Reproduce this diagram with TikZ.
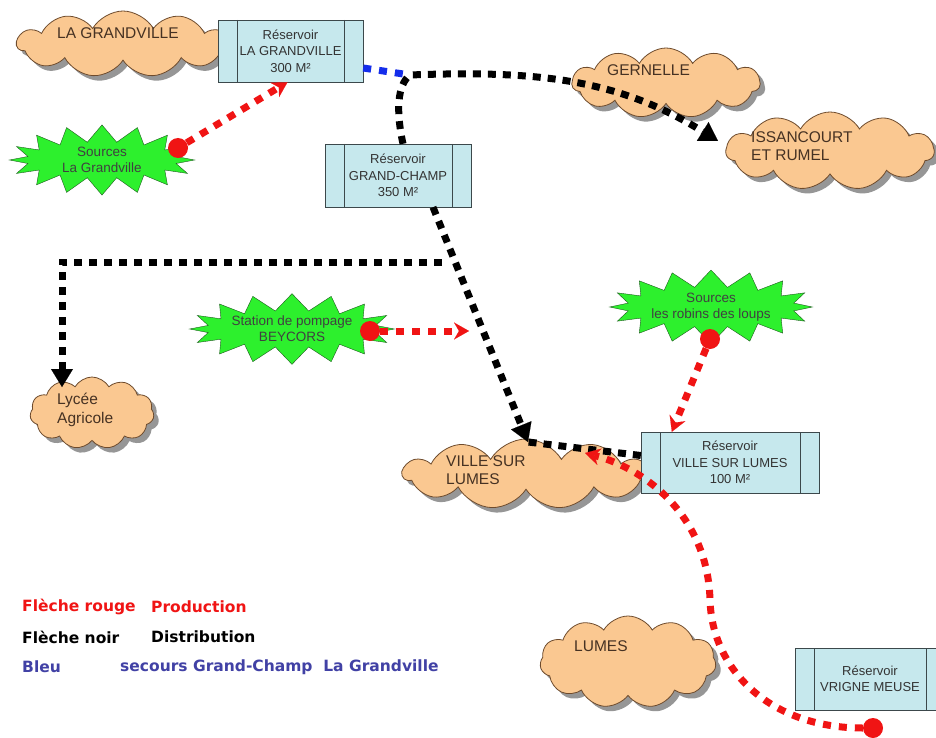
\documentclass[tikz,border=0pt]{standalone}
\usepackage{fontspec}
\setmainfont{Liberation Sans}
\newfontfamily\legendfont{DejaVu Sans}
\usepackage{tikz}
\usetikzlibrary{arrows.meta,shapes.symbols,shadows}
\definecolor{cloudF}{RGB}{250,200,145}
\definecolor{cloudD}{RGB}{110,75,45}
\definecolor{cloudT}{RGB}{70,50,35}
\definecolor{shadowG}{RGB}{150,150,150}
\definecolor{resF}{RGB}{198,232,237}
\definecolor{resD}{RGB}{60,72,75}
\definecolor{burstF}{RGB}{45,240,45}
\definecolor{burstD}{RGB}{30,90,30}
\definecolor{prodR}{RGB}{240,20,20}
\definecolor{secB}{RGB}{20,45,235}
\definecolor{legB}{RGB}{65,65,165}

\begin{document}
\begin{tikzpicture}[x=1pt, y=-1pt,
  cl/.style={cloud, cloud puffs=11, cloud puff arc=120, cloud ignores aspect, draw=cloudD, fill=cloudF, thick,
    drop shadow={shadow xshift=5pt, shadow yshift=-5pt, fill=shadowG, opacity=1}},
  clt/.style={text=cloudT, align=left, font=\fontsize{15.5}{18.5}\selectfont, inner sep=0pt},
  res/.style={rectangle, draw=resD, fill=resF, align=center, text=black!80, font=\fontsize{13}{16.5}\selectfont,
    path picture={\draw[resD] ([xshift=19pt]path picture bounding box.north west) -- ([xshift=19pt]path picture bounding box.south west)
      ([xshift=-19pt]path picture bounding box.north east) -- ([xshift=-19pt]path picture bounding box.south east);}},
  src/.style={starburst, random starburst=0, starburst points=16, starburst point height=17pt, draw=burstD, fill=burstF, align=center,
    text=black!75, font=\fontsize{13.5}{16}\selectfont, inner sep=0pt},
  dot/.style={circle, fill=prodR, minimum size=20pt, inner sep=0pt},
  prod/.style={prodR, line width=7pt, dash pattern=on 8pt off 8pt, -{Stealth[length=15pt,width=17pt,inset=5pt,line width=0.1pt]}},
  dist/.style={black, line width=7pt, dash pattern=on 8pt off 7pt},
  distA/.style={dist, -{Triangle[length=18pt,width=22pt,line width=0.1pt]}},
  sec/.style={secB, line width=7pt, dash pattern=on 8pt off 8pt},
  leg/.style={font=\legendfont\bfseries\fontsize{15.5}{18}\selectfont, anchor=west, inner sep=0pt}]
  \useasboundingbox (0,0) rectangle (936,738);
  \clip (0,0) rectangle (936,738);
  \fill[white] (0,0) rectangle (936,738);

  \node[cl, minimum width=212pt, minimum height=66pt] (cGrand) at (123,44) {};
  \node[clt, anchor=west] (tGrand) at (57,33) {LA GRANDVILLE};
  \node[cl, minimum width=188pt, minimum height=70pt] (cGer) at (666,83) {};
  \node[clt, anchor=west] (tGer) at (607,70) {GERNELLE};
  \node[cl, minimum width=208pt, minimum height=78pt] (cIss) at (830,151) {};
  \node[clt, anchor=north west] (tIss) at (751,131) {ISSANCOURT\\ET RUMEL};
  \node[cl, minimum width=124pt, minimum height=72pt] (cLyc) at (92,413) {};
  \node[clt, anchor=north west] (tLyc) at (57,393) {Lycée\\Agricole};
  \node[cl, minimum width=246pt, minimum height=70pt] (cVsl) at (526,474) {};
  \node[clt, anchor=north west] (tVsl) at (446,455) {VILLE SUR\\LUMES};
  \node[cl, minimum width=176pt, minimum height=92pt] (cLum) at (628,662) {};
  \node[clt, anchor=west] (tLum) at (574,646) {LUMES};

  \node[res, minimum width=145pt, minimum height=62pt] (rGrand) at (290.5,51) {Réservoir\\LA GRANDVILLE\\300 M²};
  \node[res, minimum width=146pt, minimum height=63pt] (rGc) at (398,175.5) {Réservoir\\GRAND-CHAMP\\350 M²};
  \node[res, minimum width=178pt, minimum height=61pt] (rVsl) at (730,462.5) {Réservoir\\VILLE SUR  LUMES\\100 M²};
  \node[res, minimum width=150pt, minimum height=62pt] (rVrig) at (870,679) {Réservoir\\VRIGNE MEUSE};

  \node[src, minimum width=185pt, minimum height=57pt] (bSrc) at (102,160) {Sources\\La Grandville};
  \node[src, minimum width=182pt, minimum height=57pt] (bBey) at (292,329) {Station de pompage\\BEYCORS};
  \node[src, minimum width=183pt, minimum height=57pt] (bRob) at (711,307) {Sources\\les robins des loups};

  \coordinate (jTop) at (410,75);
  \coordinate (jMid) at (442,262);
  \coordinate (issTip) at (718,141);
  \coordinate (lycTip) at (62,387);
  \coordinate (vslTip) at (528,442);
  \coordinate (vslRed) at (585,453);
  \coordinate (pumpTip) at (469,331);

  \draw[sec] ([yshift=-17pt]rGrand.east) -- (jTop);
  \draw[distA] ([xshift=5pt]rGc.north) .. controls (396,112) and (397,85) .. (jTop)
    .. controls (540,70) and (620,80) .. (issTip);
  \draw[distA] ([xshift=35pt]rGc.south) -- (vslTip);
  \draw[distA] (jMid) -| (lycTip);
  \draw[dist] ([yshift=7pt]rVsl.west) -- (vslTip);

  \node[dot] (d1) at (178,148) {};
  \node[dot] (d2) at (370,331) {};
  \node[dot] (d3) at (710,339) {};
  \node[dot] (d4) at (873,728) {};
  \draw[prod] (d1) -- ([xshift=-3pt]rGrand.south);
  \draw[prod] (d2) -- (pumpTip);
  \draw[prod] (d3) -- ([xshift=31pt]rVsl.north west);
  \draw[prod] (d4) .. controls (770,728) and (712,670) .. (710,600)
    .. controls (708,520) and (650,470) .. (vslRed);

  \node[leg, text=prodR] (l1a) at (22,607) {Flèche rouge};
  \node[leg, text=prodR] (l1b) at (151,607) {Production};
  \node[leg, text=black] (l2a) at (22,637) {Flèche noir};
  \node[leg, text=black] (l2b) at (151,637) {Distribution};
  \node[leg, text=legB] (l3a) at (22,667) {Bleu};
  \node[leg, text=legB] (l3b) at (120,667) {secours Grand-Champ\ \ La Grandville};
\end{tikzpicture}
\end{document}
